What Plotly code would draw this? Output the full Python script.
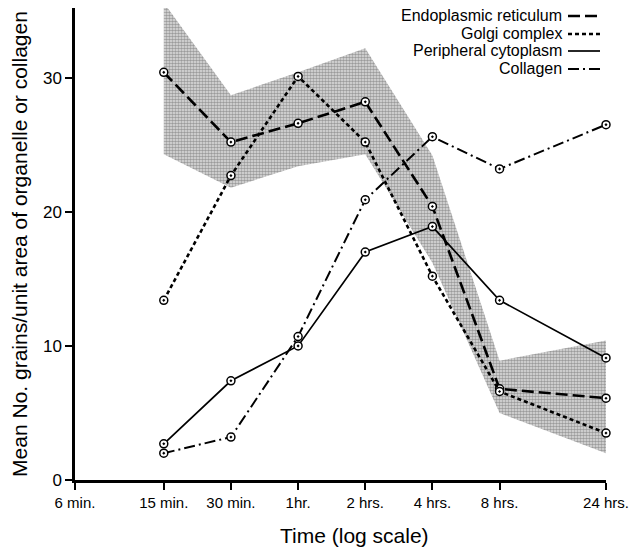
import plotly.graph_objects as go
import math

# ---- data ----
times_min = [15, 30, 60, 120, 240, 480, 1440]
tick_vals = [6, 15, 30, 60, 120, 240, 480, 1440]
tick_text = ["6 min.", "15 min.", "30 min.", "1hr.", "2 hrs.", "4 hrs.", "8 hrs.", "24 hrs."]

er = [30.4, 25.2, 26.6, 28.2, 20.4, 6.8, 6.1]
golgi = [13.4, 22.7, 30.1, 25.2, 15.2, 6.6, 3.5]
peripheral = [2.7, 7.4, 10.0, 17.0, 18.9, 13.4, 9.1]
collagen = [2.0, 3.2, 10.7, 20.9, 25.6, 23.2, 26.5]

er_upper = [35.6, 28.7, 30.4, 32.2, 24.2, 8.9, 10.4]
er_lower = [24.3, 21.8, 23.4, 24.3, 16.2, 5.0, 2.0]

legend_names = ["Endoplasmic reticulum", "Golgi complex", "Peripheral cytoplasm", "Collagen"]
x_title = "Time (log scale)"
y_title = "Mean No. grains/unit area of organelle or collagen"

FONT = "Liberation Sans"
OFF = 8  # page body margin offset
W, H = 637 - OFF, 550 - OFF

fig = go.Figure()

# shaded band around ER
fig.add_trace(go.Scatter(x=times_min, y=er_lower, mode="lines", line=dict(width=0),
                         showlegend=False, hoverinfo="skip"))
fig.add_trace(go.Scatter(x=times_min, y=er_upper, mode="lines", line=dict(width=0),
                         fill="tonexty", fillcolor="rgba(0,0,0,0)",
                         fillpattern=dict(shape=".", fgcolor="#555555", bgcolor="#e0e0e0",
                                          size=3, solidity=0.55),
                         showlegend=False, hoverinfo="skip"))

styles = [
    (er, "12px,5px", 2.6),
    (golgi, "4px,3px", 2.6),
    (peripheral, "solid", 1.7),
    (collagen, "11px,4px,2px,4px", 2.0),
]
for (vals, dash, w), name in zip(styles, legend_names):
    fig.add_trace(go.Scatter(
        x=times_min, y=vals, mode="lines+markers", name=name,
        line=dict(color="black", width=w, dash=dash),
        marker=dict(symbol="circle-dot", size=8, color="white",
                    line=dict(color="black", width=1.5)),
        cliponaxis=False, showlegend=False))

# pixel geometry (reference coordinates minus page offset)
plot_top, plot_bottom, plot_left, plot_right = 0, 480 - OFF, 75 - OFF, 606 - OFF
ph = plot_bottom - plot_top
pw = plot_right - plot_left

# legend drawn as right-aligned text with line samples on the right
leg_y_px = [16, 34, 51, 69]
for (vals, dash, w), name, ypx in zip(styles, legend_names, leg_y_px):
    yp = (plot_bottom - (ypx - OFF)) / ph
    fig.add_annotation(x=(564 - OFF - plot_left) / pw, y=yp, xref="paper", yref="paper",
                       text=name, showarrow=False, xanchor="right", yanchor="middle",
                       font=dict(family=FONT, size=16, color="black"))
    fig.add_shape(type="line", xref="paper", yref="paper",
                  x0=(568 - OFF - plot_left) / pw, x1=(600 - OFF - plot_left) / pw, y0=yp, y1=yp,
                  line=dict(color="black", width=w, dash=dash))

# x-axis title (slightly right of centre, as in the reference)
fig.add_annotation(x=(354 - OFF - plot_left) / pw, y=(plot_bottom - (535 - OFF)) / ph,
                   xref="paper", yref="paper", text=x_title, showarrow=False,
                   xanchor="center", yanchor="middle",
                   font=dict(family=FONT, size=21, color="black"))

fig.update_layout(
    width=W, height=H,
    margin=dict(l=plot_left, r=W - plot_right, t=plot_top, b=H - plot_bottom),
    paper_bgcolor="white", plot_bgcolor="white",
    font=dict(family=FONT, color="black"),
    showlegend=False,
)
fig.update_xaxes(type="log", range=[math.log10(6), math.log10(1440)],
                 tickvals=tick_vals, ticktext=tick_text,
                 showgrid=False, zeroline=False,
                 showline=True, linecolor="black", linewidth=2.5,
                 ticks="outside", ticklen=7, tickwidth=1.5, tickcolor="black",
                 tickfont=dict(family=FONT, size=15))
fig.update_yaxes(range=[0, 35.2], tickvals=[0, 10, 20, 30],
                 showgrid=False, zeroline=False,
                 showline=True, linecolor="black", linewidth=2.5,
                 ticks="outside", ticklen=7, tickwidth=1.5, tickcolor="black",
                 tickfont=dict(family=FONT, size=17),
                 title=dict(text=y_title, font=dict(family=FONT, size=21), standoff=13))

fig.write_html("out.html")
